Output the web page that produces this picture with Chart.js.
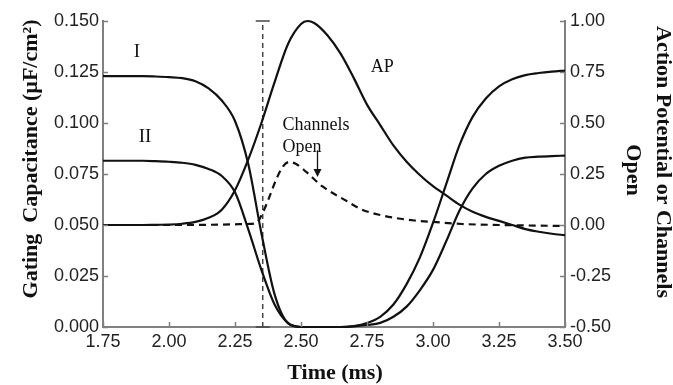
<!DOCTYPE html>
<html><head><meta charset="utf-8">
<script src="https://cdn.jsdelivr.net/npm/chart.js@4.4.1/dist/chart.umd.min.js"></script>
<style>html,body{margin:0;padding:0;background:#fff}#wrap{width:673px;height:385px;position:relative}</style>
</head><body><div id="wrap"><canvas id="c" width="673" height="385"></canvas></div>
<script>
// ---- data ----
const timeMs = [1.75,1.80,1.85,1.90,1.95,2.00,2.05,2.10,2.15,2.20,2.25,2.30,2.35,2.40,2.45,2.50,2.55,2.60,2.65,2.70,2.75,2.80,2.85,2.90,2.95,3.00,3.05,3.10,3.15,3.20,3.25,3.30,3.35,3.40,3.45,3.50];
const gatingI = [0.123,0.123,0.123,0.123,0.1228,0.1225,0.122,0.1205,0.117,0.111,0.101,0.080,0.046,0.016,0.002,0.0,0.0,0.0,0.0,0.0005,0.002,0.005,0.011,0.021,0.034,0.051,0.070,0.089,0.103,0.112,0.118,0.1215,0.1235,0.1245,0.1252,0.1257];
const gatingII = [0.0815,0.0815,0.0815,0.0815,0.0813,0.081,0.0805,0.0795,0.0775,0.074,0.066,0.048,0.028,0.011,0.002,0.0,0.0,0.0,0.0,0.0003,0.001,0.002,0.005,0.010,0.018,0.028,0.042,0.057,0.068,0.075,0.079,0.0815,0.083,0.0835,0.0838,0.084];
const apTime = [1.75,1.80,1.85,1.90,1.95,2.00,2.05,2.10,2.15,2.20,2.25,2.30,2.35,2.40,2.45,2.50,2.525,2.55,2.60,2.65,2.70,2.75,2.80,2.85,2.90,2.95,3.00,3.05,3.10,3.15,3.20,3.25,3.30,3.35,3.40,3.45,3.50];
const actionPotential = [0,0,0,0,0.001,0.002,0.006,0.015,0.035,0.075,0.17,0.32,0.50,0.70,0.885,0.985,1.0,0.99,0.93,0.84,0.72,0.59,0.49,0.39,0.31,0.245,0.19,0.145,0.10,0.065,0.04,0.02,0.0,-0.02,-0.033,-0.043,-0.05];
const chanTime = [1.75,2.00,2.20,2.30,2.33,2.355,2.38,2.405,2.43,2.455,2.48,2.52,2.58,2.67,2.73,2.80,2.86,2.93,3.00,3.11,3.25,3.50];
const channelsOpen = [0,0,0.002,0.005,0.009,0.06,0.137,0.22,0.284,0.309,0.30,0.26,0.19,0.12,0.076,0.049,0.034,0.022,0.015,0.005,0.0,-0.005];
const markerTime = [2.355, 2.355];
const markerLevel = [0, 0.15];
const xTickValues = [1.75,2.00,2.25,2.50,2.75,3.00,3.25,3.50];
const leftTickValues = [0,0.025,0.05,0.075,0.1,0.125,0.15];
const rightTickValues = [-0.5,-0.25,0,0.25,0.5,0.75,1.0];
const xTitle = 'Time (ms)';
const leftTitle = 'Gating  Capacitance (\u00B5F/cm\u00B2)';
const rightTitle = ['Action Potential or Channels', 'Open'];

// ---- annotation placement (data units, left axis) ----
const notes = [
  {text:'I', t:1.878, v:0.1348, align:'center', size:19},
  {text:'II', t:1.909, v:0.0931, align:'center', size:19},
  {text:'AP', t:2.808, v:0.1275, align:'center', size:18},
  {text:'Channels', t:2.430, v:0.099, align:'left', size:18},
  {text:'Open', t:2.430, v:0.0882, align:'left', size:18}
];
const arrowAt = {t:2.5625, from:0.0866, to:0.0735};

const toXY = (xs, ys) => xs.map((x, i) => ({x, y: ys[i]}));
const AXIS = '#808080';

const decor = {
  id: 'decor',
  afterDraw(chart) {
    const {ctx, chartArea: a, scales} = chart;
    const sx = scales.x, sy = scales.y, sy1 = scales.y1;
    ctx.save();
    // inward tick marks
    ctx.strokeStyle = AXIS; ctx.lineWidth = 1.5;
    ctx.beginPath();
    xTickValues.forEach(v => { const p = Math.round(sx.getPixelForValue(v)) + 0.5; ctx.moveTo(p, a.bottom); ctx.lineTo(p, a.bottom - 5); });
    leftTickValues.forEach(v => { const p = Math.round(sy.getPixelForValue(v)) + 0.5; ctx.moveTo(a.left, p); ctx.lineTo(a.left + 5, p); });
    rightTickValues.forEach(v => { const p = Math.round(sy1.getPixelForValue(v)) + 0.5; ctx.moveTo(a.right, p); ctx.lineTo(a.right - 5, p); });
    ctx.stroke();
    // annotations
    ctx.fillStyle = '#111';
    ctx.textBaseline = 'middle';
    notes.forEach(n => {
      ctx.font = n.size + 'px "Liberation Serif", "Times New Roman", serif';
      ctx.textAlign = n.align;
      ctx.fillText(n.text, sx.getPixelForValue(n.t), sy.getPixelForValue(n.v));
    });
    // arrow
    const ax = sx.getPixelForValue(arrowAt.t), ay0 = sy.getPixelForValue(arrowAt.from), ay1 = sy.getPixelForValue(arrowAt.to);
    ctx.strokeStyle = '#111'; ctx.lineWidth = 1.3;
    ctx.beginPath(); ctx.moveTo(ax, ay0); ctx.lineTo(ax, ay1 - 6); ctx.stroke();
    ctx.beginPath(); ctx.moveTo(ax - 4, ay1 - 8); ctx.lineTo(ax + 4, ay1 - 8); ctx.lineTo(ax, ay1); ctx.closePath(); ctx.fill();
    // axis titles
    ctx.fillStyle = '#111';
    ctx.textBaseline = 'alphabetic';
    ctx.textAlign = 'center';
    ctx.font = 'bold 22px "Liberation Serif", "Times New Roman", serif';
    ctx.fillText(xTitle, (a.left + a.right) / 2 + 1, 379);
    ctx.save(); ctx.translate(37, 159); ctx.rotate(-Math.PI / 2); ctx.fillText(leftTitle, 0, 0); ctx.restore();
    ctx.save(); ctx.translate(657, 162); ctx.rotate(Math.PI / 2); ctx.fillText(rightTitle[0], 0, 0); ctx.restore();
    ctx.save(); ctx.translate(627, 170); ctx.rotate(Math.PI / 2); ctx.fillText(rightTitle[1], 0, 0); ctx.restore();
    ctx.restore();
  }
};

const lineDs = (label, data, axis, extra) => Object.assign({
  label, data, yAxisID: axis, borderColor: '#111', borderWidth: 2.2, pointRadius: 0,
  cubicInterpolationMode: 'monotone', fill: false, clip: false
}, extra || {});

const tickFont = {family: '"Liberation Sans", Arial, sans-serif', size: 18};

new Chart(document.getElementById('c'), {
  type: 'line',
  data: {
    datasets: [
      lineDs('I', toXY(timeMs, gatingI), 'y'),
      lineDs('II', toXY(timeMs, gatingII), 'y'),
      lineDs('AP', toXY(apTime, actionPotential), 'y1'),
      lineDs('Channels Open', toXY(chanTime, channelsOpen), 'y1', {borderDash: [7, 5], borderWidth: 2.2}),
      lineDs('marker', toXY(markerTime, markerLevel), 'y', {borderDash: [5, 4], borderWidth: 1.5, borderColor: '#444',
        pointRadius: 7, pointStyle: 'line', pointBorderColor: '#444', pointBorderWidth: 1.5, cubicInterpolationMode: 'default', tension: 0})
    ]
  },
  options: {
    responsive: false, animation: false, devicePixelRatio: 1,
    layout: {padding: {top: 21, left: 0, right: 0, bottom: 0}},
    plugins: {legend: {display: false}, tooltip: {enabled: false}},
    scales: {
      x: {
        type: 'linear', min: 1.75, max: 3.5,
        afterBuildTicks: s => { s.ticks = xTickValues.map(v => ({value: v})); },
        afterFit: s => { s.height = 58; },
        grid: {display: false, drawTicks: false},
        border: {display: true, color: AXIS, width: 2},
        ticks: {font: tickFont, color: '#222', padding: 4, maxRotation: 0, autoSkip: false, callback: v => v.toFixed(2)}
      },
      y: {
        type: 'linear', position: 'left', min: 0, max: 0.15,
        afterBuildTicks: s => { s.ticks = leftTickValues.map(v => ({value: v})); },
        afterFit: s => { s.width = 103; },
        grid: {display: false, drawTicks: false},
        border: {display: true, color: AXIS, width: 2},
        ticks: {font: tickFont, color: '#222', padding: 4, autoSkip: false, callback: v => v.toFixed(3)}
      },
      y1: {
        type: 'linear', position: 'right', min: -0.5, max: 1.0,
        afterBuildTicks: s => { s.ticks = rightTickValues.map(v => ({value: v})); },
        afterFit: s => { s.width = 108; },
        grid: {display: false, drawTicks: false},
        border: {display: true, color: AXIS, width: 2},
        ticks: {font: tickFont, color: '#222', padding: 5, autoSkip: false, callback: v => v.toFixed(2)}
      }
    }
  },
  plugins: [decor]
});
</script></body></html>
